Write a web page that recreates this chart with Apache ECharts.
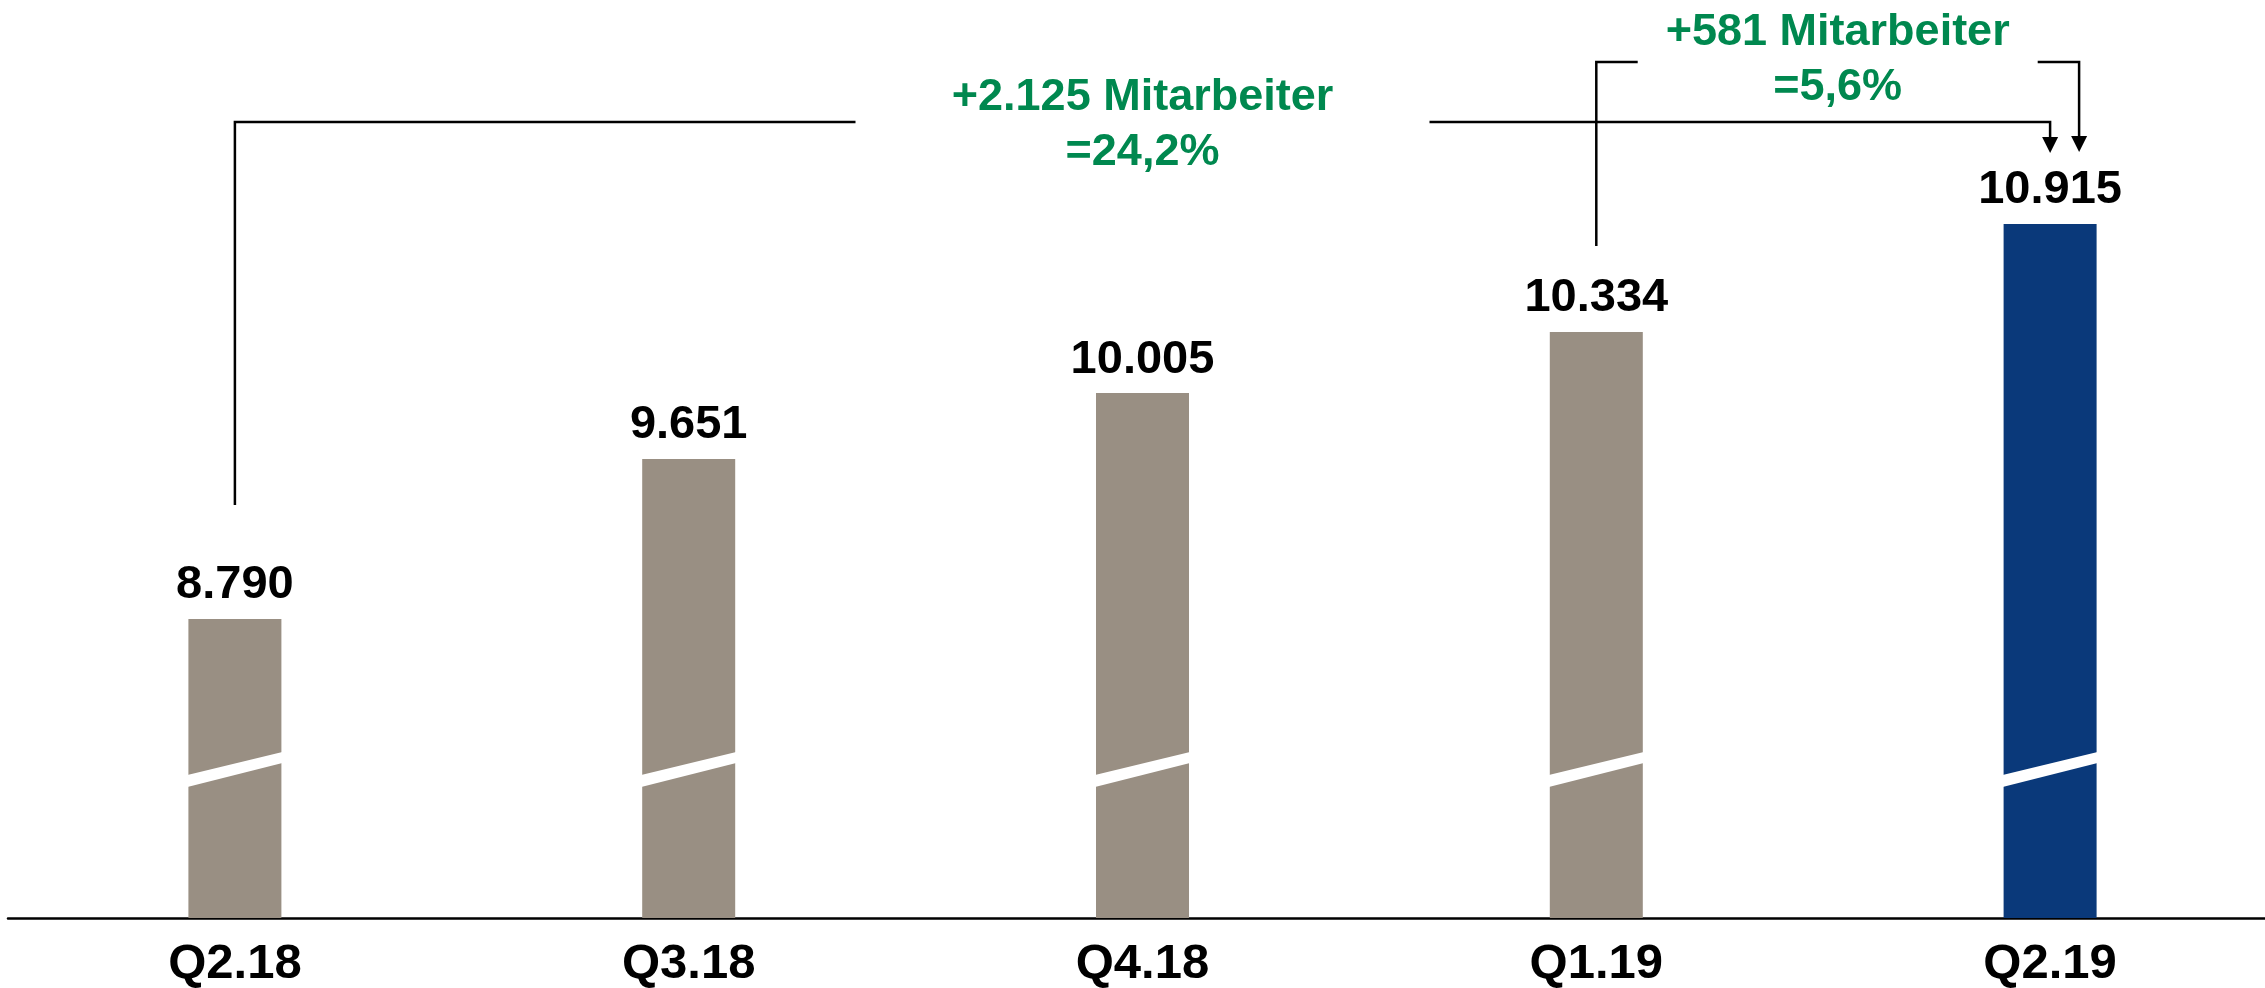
<!DOCTYPE html>
<html>
<head>
<meta charset="utf-8">
<script src="https://cdn.jsdelivr.net/npm/echarts@6/dist/echarts.min.js"></script>
<style>
html, body { margin: 0; padding: 0; background: #fff; }
#mitarbeiter { width: 2265px; height: 988px; }
</style>
</head>
<body>
<div id="mitarbeiter"></div>
<script>
// *******Data*******
var quarters = ['Q2.18', 'Q3.18', 'Q4.18', 'Q1.19', 'Q2.19'];
var employees = [8790, 9651, 10005, 10334, 10915];
// comparisons drawn as brackets: [from quarter index, to quarter index]
var comparisons = [[0, 4], [3, 4]];

// *******Styles / layout*******
var GREY = '#998f83';
var BLUE = '#0a397a';
var GREEN = '#00884f';
var FONT = '"Liberation Sans", Arial, sans-serif';
var Y_MIN = 7181;
var Y_MAX = 12120;
var BAR_W = 93;

// pixel layout of each bracket (same order as comparisons)
var bracketLayout = [
    {top: 122, bottom: 505, endShift: 0, gap: 287, tip: 153, text1: 98, text2: 153, width: 2.5},
    {top: 62, bottom: 246, endShift: 29, gap: 200, tip: 152, text1: 33, text2: 88, width: 2.5}
];

function formatDE(n) {
    return String(n).replace(/\B(?=(\d{3})+(?!\d))/g, '.');
}
function formatPct(p) {
    return p.toFixed(1).replace('.', ',');
}

var myChart = echarts.init(document.getElementById('mitarbeiter'));

// white slanted "axis break" band across every bar
function breakMark(params, api) {
    var base = api.coord([api.value(0), Y_MIN]);
    var half = BAR_W / 2 + 1;
    var x0 = base[0] - half, x1 = base[0] + half, y = base[1];
    return {
        type: 'polygon',
        shape: {points: [[x0, y - 143], [x1, y - 166], [x1, y - 155], [x0, y - 131]]},
        style: {fill: '#fff'}
    };
}

var option = {
    animation: false,
    backgroundColor: '#fff',
    grid: {left: 8, top: 0, width: 2269, bottom: 70, containLabel: false, outerBoundsMode: 'none'},
    xAxis: {
        type: 'category',
        data: quarters,
        axisLine: {lineStyle: {color: '#000', width: 2.5}},
        axisTick: {show: false},
        axisLabel: {color: '#000', fontFamily: FONT, fontWeight: 'bold', fontSize: 49, margin: 22}
    },
    yAxis: {type: 'value', min: Y_MIN, max: Y_MAX, show: false},
    series: [
        {
            type: 'bar',
            barWidth: BAR_W,
            clip: true,
            data: employees.map(function (v, i) {
                return {value: v, itemStyle: {color: i == employees.length - 1 ? BLUE : GREY}};
            }),
            label: {
                show: true, position: 'top', distance: 10, color: '#000',
                fontFamily: FONT, fontWeight: 'bold', fontSize: 47,
                formatter: function (p) { return formatDE(p.value); }
            }
        },
        {
            type: 'custom',
            z: 5,
            data: quarters.map(function (q, i) { return [i, Y_MIN]; }),
            renderItem: breakMark
        }
    ]
};
myChart.setOption(option);

// brackets with growth text, positioned from the chart's own x scale
function buildBrackets() {
    var elements = [];
    comparisons.forEach(function (c, k) {
        var lay = bracketLayout[k];
        var xa = myChart.convertToPixel({seriesIndex: 0}, [c[0], employees[c[0]]])[0];
        var xb = myChart.convertToPixel({seriesIndex: 0}, [c[1], employees[c[1]]])[0] + lay.endShift;
        var mid = (xa + xb) / 2;
        var diff = employees[c[1]] - employees[c[0]];
        var pct = diff / employees[c[0]] * 100;
        var line = {stroke: '#000', lineWidth: lay.width, fill: null};

        elements.push({type: 'polyline', shape: {points: [[xa, lay.bottom], [xa, lay.top], [mid - lay.gap, lay.top]]}, style: line});
        elements.push({type: 'polyline', shape: {points: [[mid + lay.gap, lay.top], [xb, lay.top], [xb, lay.tip - 15]]}, style: line});
        elements.push({type: 'polygon', shape: {points: [[xb - 8, lay.tip - 16], [xb + 8, lay.tip - 16], [xb, lay.tip]]}, style: {fill: '#000'}});
        elements.push({type: 'text', style: {
            text: '+' + formatDE(diff) + ' Mitarbeiter', x: mid, y: lay.text1,
            fill: GREEN, font: 'bold 45px ' + FONT, align: 'center', verticalAlign: 'middle',
            textAlign: 'center', textVerticalAlign: 'middle'
        }});
        elements.push({type: 'text', style: {
            text: '=' + formatPct(pct) + '%', x: mid, y: lay.text2,
            fill: GREEN, font: 'bold 45px ' + FONT, align: 'center', verticalAlign: 'middle',
            textAlign: 'center', textVerticalAlign: 'middle'
        }});
    });
    myChart.setOption({graphic: elements});
}
buildBrackets();
</script>
</body>
</html>
